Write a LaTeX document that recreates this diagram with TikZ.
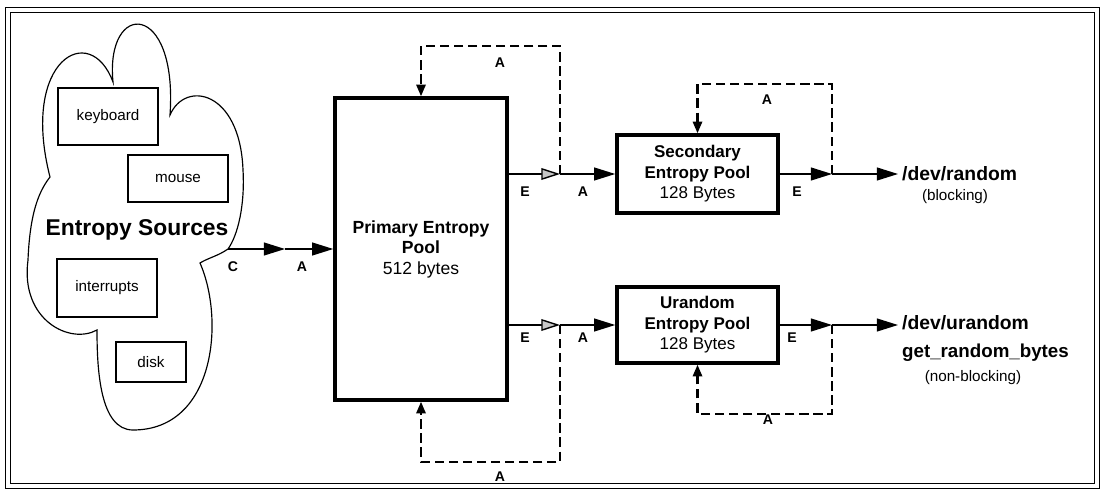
\documentclass[tikz,border=0pt]{standalone}
\usepackage{fontspec}
\setmainfont{Liberation Sans}
\usetikzlibrary{arrows.meta,calc,positioning}

\begin{document}
\begin{tikzpicture}[x=0.03cm,y=-0.03cm,
      every node/.style={font=\fontsize{13}{15}\selectfont},
      srcbox/.style={draw,line width=0.9pt,inner sep=0pt},
      pool/.style={draw,line width=3pt,align=center,inner sep=0pt,
                   font=\fontsize{14.5}{17.5}\selectfont},
      lbl/.style={font=\fontsize{12}{14}\selectfont\bfseries},
      flow/.style={-{Triangle[length=18pt,width=11pt]},line width=1.2pt},
      eflow/.style={-{Triangle[length=16pt,width=10pt,fill=gray!45]},line width=1.2pt},
      feedback/.style={-{Triangle[length=10pt,width=8pt]},line width=1.8pt,
                       dash pattern=on 8pt off 4pt}
    ]
      \useasboundingbox (0,0) rectangle (1102,489);
      \draw[double,line width=1.2pt,double distance=3pt] (8,10) rectangle (1097,486);

      \draw[line width=1pt] (113,82) .. controls (105,0) and (178,0) .. (170,115)
        .. controls (185,80) and (240,90) .. (243,170)
        .. controls (245,205) and (238,235) .. (228,249)
        .. controls (218,256) and (208,258) .. (200,263)
        .. controls (225,320) and (215,430) .. (133,430)
        .. controls (100,430) and (97,370) .. (97,330)
        .. controls (70,345) and (20,320) .. (28,260)
        .. controls (30,210) and (40,190) .. (50,177)
        .. controls (20,60) and (90,20) .. cycle;

      \node[srcbox,minimum width=3cm,minimum height=1.71cm] (kbd) at (108,116.5) {keyboard};
      \node[srcbox,minimum width=3cm,minimum height=1.41cm] (mouse) at (178,178.5) {mouse};
      \node[srcbox,minimum width=3cm,minimum height=1.74cm] (irq) at (107,288) {interrupts};
      \node[srcbox,minimum width=2.1cm,minimum height=1.2cm] (disk) at (151,362) {disk};
      \node[font=\fontsize{19.5}{22}\selectfont\bfseries] (src) at (137,230) {Entropy Sources};

      \node[pool,minimum width=5.16cm,minimum height=9.06cm,
            font=\fontsize{15}{17.5}\selectfont] (prim) at (421,249)
        {\textbf{Primary Entropy}\\\textbf{Pool}\\512 bytes};
      \node[pool,minimum width=4.83cm,minimum height=2.34cm] (sec) at (697.5,174)
        {\textbf{Secondary}\\\textbf{Entropy Pool}\\128 Bytes};
      \node[pool,minimum width=4.83cm,minimum height=2.28cm] (uran) at (697.5,325)
        {\textbf{Urandom}\\\textbf{Entropy Pool}\\128 Bytes};

      \node[anchor=west,font=\fontsize{16.5}{19}\selectfont\bfseries] (rnd) at (898,174) {/dev/random};
      \node (blk) at (955,197) {(blocking)};
      \node[anchor=west,font=\fontsize{16.5}{19}\selectfont\bfseries] (urnd) at (898,323) {/dev/urandom};
      \node[anchor=west,font=\fontsize{16}{19}\selectfont\bfseries] (grb) at (898,353) {get\_random\_bytes};
      \node (nblk) at (973,378) {(non-blocking)};

      \coordinate (cloudout) at (228,249);
      \coordinate (cmid) at (285,249);
      \coordinate (jE1) at (560,174);
      \coordinate (jE2) at (560,325);
      \coordinate (jS) at (832,174);
      \coordinate (jU) at (832,325);

      \draw[flow] (cloudout) -- (cmid);
      \draw[flow] (cmid) -- (prim);

      \draw[eflow] (prim.east |- jE1) -- (jE1);
      \draw[flow] (jE1) -- (sec);
      \draw[eflow] (prim.east |- jE2) -- (jE2);
      \draw[flow] (jE2) -- (uran);

      \draw[flow] (sec.east) -- (jS);
      \draw[flow] (jS) -- (rnd.west);
      \draw[flow] (uran.east) -- (jU);
      \draw[flow] (jU) -- (urnd.west |- jU);

      \draw[feedback] (jE1) -- ++(0,-128) -| (prim.north);
      \draw[feedback] (jE2) -- ++(0,137) -| (prim.south);
      \draw[feedback] (jS) -- ++(0,-90) -| (sec.north);
      \draw[feedback] (jU) -- ++(0,89) -| (uran.south);

      \node[lbl] (lc) at (233,267) {C};
      \node[lbl] (la0) at (302,267) {A};
      \node[lbl] (le1) at (525,192) {E};
      \node[lbl] (la1) at (583,192) {A};
      \node[lbl] (le2) at (525,338) {E};
      \node[lbl] (la2) at (583,338) {A};
      \node[lbl] (le3) at (797,192) {E};
      \node[lbl] (le4) at (792,338) {E};
      \node[lbl] (lf1) at (500,63) {A};
      \node[lbl] (lf2) at (500,477) {A};
      \node[lbl] (lf3) at (767,100) {A};
      \node[lbl] (lf4) at (768,420) {A};
    \end{tikzpicture}
\end{document}
